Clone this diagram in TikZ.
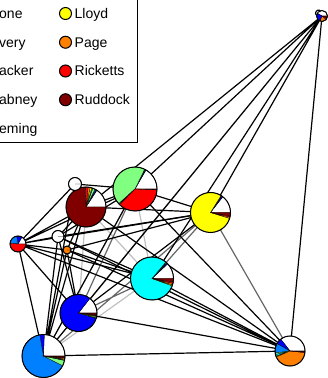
\documentclass[tikz,border=0pt]{standalone}
\usepackage{fontspec}
\setmainfont{Liberation Sans}
\definecolor{housenone}{RGB}{255,255,255}
\definecolor{houseavery}{RGB}{0,0,255}
\definecolor{houseblacker}{RGB}{0,128,255}
\definecolor{housedabney}{RGB}{128,255,128}
\definecolor{housefleming}{RGB}{0,255,255}
\definecolor{houselloyd}{RGB}{255,255,0}
\definecolor{housepage}{RGB}{255,128,0}
\definecolor{housericketts}{RGB}{255,0,0}
\definecolor{houseruddock}{RGB}{128,0,0}
% pie of one vertex: centre, radius, list start/end/colour
\newcommand{\housepie}[3]{%
  \foreach \a/\b/\c in {#3} {
    \fill[\c, draw=black, line width=0.3pt] (#1) -- ++(\a:#2) arc[start angle=\a, end angle=\b, radius=#2] -- cycle;
  }
  \draw[line width=1pt] (#1) circle[radius=#2];
}

\begin{document}
\begin{tikzpicture}[x=1pt, y=1pt,
    edge/.style={line width=1.2pt, black},
    midedge/.style={line width=1.2pt, black!60},
    faintedge/.style={line width=1.2pt, black!25},
    key/.style={circle, draw=black, line width=1pt, minimum size=12pt, inner sep=0pt},
    keytext/.style={anchor=base west, inner sep=0pt, font=\fontsize{14}{16}\selectfont}]
  \useasboundingbox (0,0) rectangle (328,378);
  \clip (0,0) rectangle (328,378);

  % legend
  \draw[line width=1pt, fill=white] (-60,235) rectangle (137,400);
  \foreach \txt/\row in {one/0, very/1, acker/2, abney/3, eming/4}
    \node[keytext] (left\row) at (-1,359.5-28.75*\row) {\txt};
  \foreach \txt/\col/\row in {Lloyd/houselloyd/0, Page/housepage/1, Ricketts/housericketts/2, Ruddock/houseruddock/3} {
    \node[key, fill=\col] (dot\row) at (65.5,364.5-28.75*\row) {};
    \node[keytext] (right\row) at (74.5,359.5-28.75*\row) {\txt};
  }

  % vertices
  \coordinate (top) at (322,362);
  \coordinate (rud) at (86,171);
  \coordinate (ric) at (135,189);
  \coordinate (llo) at (210.5,165.5);
  \coordinate (fle) at (152,99.5);
  \coordinate (ave) at (78.5,65);
  \coordinate (bla) at (43.5,22);
  \coordinate (pag) at (290,27);
  \coordinate (mix) at (18,134);
  \coordinate (wa) at (75,194);
  \coordinate (wb) at (58,141.5);
  \coordinate (org) at (67,128);

  % connectors
  \draw[faintedge] (ric) -- (fle) (rud) -- (fle) (bla) -- (fle) (bla) -- (ave) (ric) -- (bla) (rud) -- (ave);
  \draw[midedge] (ric) -- (ave) (llo) -- (fle) (llo) -- (pag) (ave) -- (fle) (llo) -- (bla);
  \draw[edge] (top) -- (rud) (top) -- (ric) (top) -- (fle) (top) -- (llo)
    (top) -- (ave) (top) -- (bla) (top) -- (pag);
  \draw[edge] (top) to[out=95, in=185, min distance=14pt] (top);
  \draw[edge] (mix) -- (rud) (mix) -- (wa) (mix) -- (ric) (mix) -- (llo) (mix) -- (fle)
    (mix) -- (ave) (mix) -- (bla) (mix) -- (pag) (mix) -- (wb) (mix) -- (org);
  \draw[edge] (bla) -- (rud) (bla) -- (wa) (bla) -- (wb) (bla) -- (org) (bla) -- (ric) (bla) -- (pag);
  \draw[edge] (ave) -- (pag) (ave) -- (wb) (ave) -- (org) (ave) -- (llo);
  \draw[edge] (fle) -- (pag) (fle) -- (wb) (fle) -- (org);
  \draw[edge] (rud) -- (ric) -- (llo) (rud) -- (llo) (rud) -- (pag) (rud) -- (wa) -- (ric)
    (rud) -- (wb) (rud) -- (org);
  \draw[edge] (ric) -- (pag) (ric) -- (wb) (llo) -- (wb) (wb) -- (pag) (org) -- (pag) (org) -- (llo);

  % pies
  \housepie{top}{5.5}{0/150/housenone, 150/250/houseavery, 250/320/housepage, 320/340/housericketts, 340/360/houseruddock}
  \housepie{rud}{20}{0/57/housenone, 57/60/houseavery, 60/63/houseblacker, 63/70/housedabney, 70/73/housefleming, 73/78/houselloyd, 78/84/housepage, 84/92/housericketts, 92/360/houseruddock}
  \housepie{ric}{22}{0/60/housenone, 60/62/houseavery, 62/64/houseblacker, 64/222/housedabney, 222/224/housefleming, 224/226/housepage, 226/358/housericketts, 358/360/houseruddock}
  \housepie{llo}{20}{0/52/housenone, 52/56/houseavery, 56/58/houseblacker, 58/343/houselloyd, 343/347/housepage, 347/351/housericketts, 351/360/houseruddock}
  \housepie{fle}{21.5}{0/43/housenone, 43/46/houseavery, 46/48/houseblacker, 48/50/housedabney, 50/340/housefleming, 340/343/houselloyd, 343/347/housepage, 347/351/housericketts, 351/360/houseruddock}
  \housepie{ave}{18.5}{0/52/housenone, 52/343/houseavery, 343/345/houseblacker, 345/349/housedabney, 349/351/houselloyd, 351/353/housepage, 353/356/housericketts, 356/360/houseruddock}
  \housepie{bla}{21.5}{0/88/housenone, 88/100/houseavery, 100/333/houseblacker, 333/348/housedabney, 348/350/housefleming, 350/352/houselloyd, 352/355/housepage, 355/357/housericketts, 357/360/houseruddock}
  \housepie{pag}{15}{0/128/housenone, 128/150/houseavery, 150/188/houseblacker, 188/194/housedabney, 194/200/housefleming, 200/204/houselloyd, 204/354/housepage, 354/357/housericketts, 357/360/houseruddock}
  \housepie{mix}{8}{0/60/housenone, 60/100/houseavery, 100/175/houseblacker, 175/360/housericketts}
  \housepie{wa}{6.5}{0/360/housenone}
  \housepie{wb}{6}{0/360/housenone}
  \housepie{org}{4}{0/360/housepage}
\end{tikzpicture}
\end{document}
